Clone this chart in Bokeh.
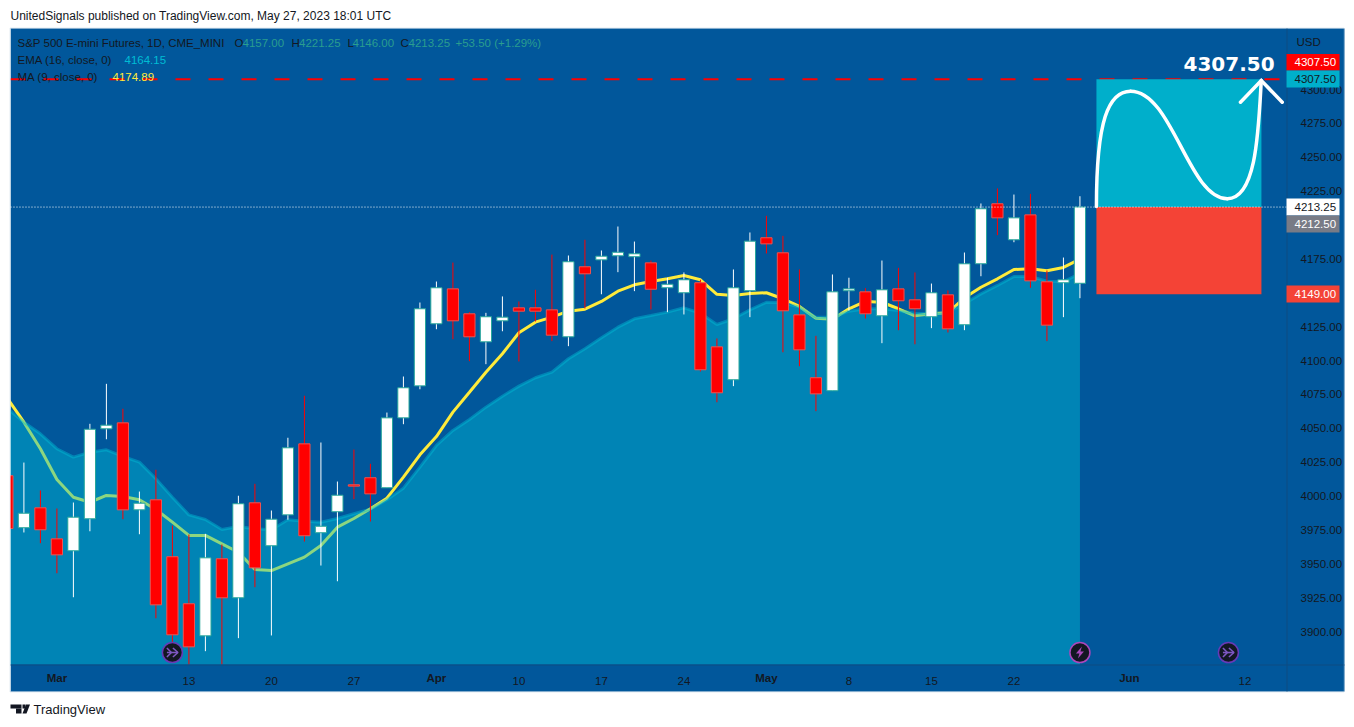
from bokeh.core.properties import value
from bokeh.embed import file_html
from bokeh.models import (BoxAnnotation, ColumnDataSource, FixedTicker, Label, LabelSet,
                          LinearAxis, NumeralTickFormatter, PolyAnnotation, Range1d)
from bokeh.plotting import figure
from bokeh.resources import INLINE

OPEN = [4015,3976.6,3991.3,3968.4,3959.6,3983.2,4049.6,4054,3989.8,3997.2,3955.2,3920.5,3896.8,3953.7,3924.9,3995,3963.3,3986.1,4038.5,3972.9,3988.4,4008.3,4013.5,4006.1,4057.7,4081.3,4127.1,4152.9,4134.5,4113.8,4129.3,4138.9,4138.9,4137.4,4117.5,4169.2,4174.3,4177.3,4176.6,4172.1,4153.7,4150,4157.4,4110.1,4085.8,4151.5,4190.6,4179.5,4133.7,4087.3,4077.7,4151.5,4150.7,4133,4152.9,4144.8,4132.3,4148.5,4126.4,4171.4,4215.7,4189.1,4207.5,4158.1,4157.4,4157]
HIGH = [4018,4024.7,4004.1,3990.8,3995.2,4053.3,4082.8,4064.4,4003.3,4019.4,3978.2,3971.6,3972.1,3964.2,4000.2,4009,3989.3,4043,4074,4039.5,4010.7,4034.3,4023.8,4061.6,4088.2,4142.8,4158.3,4172.3,4135.7,4135.2,4147.3,4143.6,4152.2,4178.2,4177.5,4189.1,4181.2,4198.9,4187.8,4173.8,4161.1,4165,4159.6,4116.3,4167.2,4194.5,4206.8,4192,4167.2,4118.2,4163.5,4161.1,4153.4,4173.8,4168.4,4165,4156.8,4151.7,4179.7,4215.9,4227,4222.5,4223,4166.4,4176,4221.25]
LOW = [3975,3973.1,3965.2,3943,3925.3,3974,4041.9,3982.9,3971.8,3909.8,3889.7,3875.7,3885.5,3875.7,3895.1,3932.7,3897.1,3982.5,3966.4,3948.7,3937.1,3997.7,3981.2,4006,4053,4078.8,4123.1,4115.7,4099.5,4097.3,4121.6,4099.3,4128.8,4114.3,4110.6,4138.4,4148.9,4165.2,4151.2,4137.7,4135.7,4134,4091.9,4069.2,4081.1,4132,4179,4106.1,4095.8,4062.6,4077.5,4136.9,4131,4112.8,4122.4,4112,4123.9,4120.7,4122.4,4162.2,4192.5,4187.3,4153.7,4114.3,4132,4146]
CLOSE = [3976,3987.3,3975.1,3956.6,3984.4,4049.3,4052.3,3989.8,3994.7,3919.7,3897.6,3888.7,3954.4,3924.9,3994.3,3947,3982.9,4035.6,3970.7,3977.7,4000.6,4007.3,4001.6,4057.7,4079.9,4138.2,4153.7,4129.3,4117.5,4132.3,4132,4136.4,4136.4,4118.7,4172.9,4164,4177,4179.9,4178.8,4152.6,4156.3,4159.6,4093.2,4076.2,4153.7,4188.1,4186.1,4136.7,4107.9,4075.4,4150.7,4152.9,4134.5,4152.2,4144.1,4138.2,4150,4123.4,4171.4,4212,4205.3,4205.3,4158.8,4126.1,4159.6,4213.25]
MA9 = [4072,4054.5,4034.9,4012.2,3999.1,3995.4,4000.4,3999.7,3997.2,3990.1,3980.7,3970.9,3970.9,3964.7,3958.5,3945.8,3945,3950,3954.9,3963.5,3977,3983.4,3990.6,3998.4,4013.9,4030.4,4043.9,4061.9,4076.6,4091.4,4105,4120.5,4128.3,4132,4136.4,4137.9,4143.6,4151.2,4155.9,4158.3,4160.3,4162.7,4159.6,4148.9,4148,4149.5,4150,4145.6,4139.9,4131.2,4130.5,4138.2,4143.6,4143,4138.2,4133,4134.5,4135.2,4146.3,4154.1,4160.3,4167.2,4167.7,4166.2,4168.7,4174.89]
EMA16 = [4064.6,4054.5,4045.9,4034.9,4028.7,4032.3,4034.1,4029.2,4025,4012.7,3999.1,3986.1,3982.7,3975.3,3977.5,3975.8,3975.1,3982.5,3981.4,3980.7,3983.4,3986.9,3990.3,3997.2,4005.8,4021.3,4037.3,4048.4,4056.5,4065.6,4073.7,4081.1,4087.3,4091.4,4101.3,4108.7,4116.8,4124.6,4130.8,4133.2,4135.7,4138.9,4134.9,4126.6,4130.8,4137.4,4143,4142.6,4139.4,4132,4132,4136.4,4138.2,4138.2,4136.9,4134.9,4134.5,4135.7,4141.9,4149.2,4155.4,4162,4162,4158.5,4158.3,4164.15]
BAR = list(range(len(OPEN)))

DATE_TICKS = [11, 16, 21, 31, 36, 41, 51, 56, 61, 75]
DATE_LABELS = ["13", "20", "27", "10", "17", "24", "8", "15", "22", "12"]
MONTH_TICKS = [3, 26, 46, 68]
MONTH_LABELS = ["Mar", "Apr", "May", "Jun"]
PRICE_TICKS = [3900, 3925, 3950, 3975, 4000, 4025, 4050, 4075, 4100, 4125, 4175, 4225, 4250, 4275, 4300]

LAST_PRICE = 4213.25
TARGET = 4307.50
STOP = 4149.00
ZONE_START = 66
ZONE_END = 76
# cubic segments of the hand-drawn wave: start, control 1, control 2, end
WAVE_X0 = [66, 68.07, 73.93]
WAVE_Y0 = [4213.7, 4298.8, 4219.4]
WAVE_CX0 = [66, 70.6, 75.7]
WAVE_CY0 = [4277.1, 4298.8, 4219.4]
WAVE_CX1 = [66.73, 71.58, 75.82]
WAVE_CY1 = [4298.8, 4219.4, 4269.8]
WAVE_X1 = [68.07, 73.93, 75.99]
WAVE_Y1 = [4298.8, 4219.4, 4306.7]
ARROW_BAR = [74.73, 75.99, 77.26]
ARROW_PRICE = [4290.6, 4306.7, 4290.6]
ICON_ARROW_BARS = [10, 74]
ICON_BOLT_BARS = [65]
ICON_PRICE = 3884.5

INK = "#131722"
PANE = "#01579b"
FONT = "Liberation Sans"
AREA = "#00bcd4"
UP_TEXT = "#2a9d8f"

# the frame fills the whole page; 16.5 px per bar, 1.355 px per point
X_RANGE = (-0.418, 81.64)
Y_RANGE = (3829.17, 4365.7)
PANE_LEFT = 0.188      # first visible bar position
PANE_RIGHT = 77.52     # price scale separator
PANE_BOTTOM = 3875.67  # date scale separator
DASH_END = 77.1

p = figure(width=1354, height=727, output_backend="svg", toolbar_location=None,
           x_range=Range1d(*X_RANGE), y_range=Range1d(*Y_RANGE),
           min_border_left=0, min_border_right=0, min_border_top=0, min_border_bottom=0,
           background_fill_color="white", border_fill_color="white",
           x_axis_location=None, y_axis_location=None, outline_line_color=None)
p.grid.visible = False


def box(l, r, t, b, fill, level="annotation", line=None):
    p.add_layout(BoxAnnotation(left=l, right=r, top=t, bottom=b,
                               left_units="canvas", right_units="canvas", top_units="canvas", bottom_units="canvas",
                               fill_color=fill, fill_alpha=1.0 if fill else 0, line_color=line, level=level,
                               editable=False))


def txt(px, py, s, color=INK, size=11.5, style="normal", font=FONT):
    p.add_layout(Label(x=px, y=py, x_units="canvas", y_units="canvas", text=s, text_color=color, text_font=font,
                       text_font_size=f"{size}px", text_font_style=style, text_baseline="middle"))


# pane background incl. axis gutters
box(10, 1344, 28, 691, PANE, level="underlay")

# axes, fixed inside the full-page frame
yax = LinearAxis(ticker=FixedTicker(ticks=PRICE_TICKS), formatter=NumeralTickFormatter(format="0.00"),
                 fixed_location=PANE_RIGHT,
                 axis_line_color=None, major_tick_line_color=None, minor_tick_line_color=None,
                 major_label_text_color=INK, major_label_text_font=FONT, major_label_text_font_size="11.5px",
                 major_label_standoff=8)
p.add_layout(yax, "right")
xax = LinearAxis(ticker=FixedTicker(ticks=DATE_TICKS),
                 major_label_overrides=dict(zip(DATE_TICKS, DATE_LABELS)),
                 fixed_location=PANE_BOTTOM,
                 axis_line_color=None, major_tick_line_color=None, minor_tick_line_color=None,
                 major_label_text_color=INK, major_label_text_font=FONT, major_label_text_font_size="11.5px",
                 major_label_standoff=7)
p.add_layout(xax, "below")
p.add_layout(LabelSet(x="x", y="y", text="t", x_units="data", y_units="canvas", text_color=INK, text_font=value(FONT),
                      text_font_size="11.5px", text_font_style="bold", text_align="center", text_baseline="middle",
                      source=ColumnDataSource(dict(x=MONTH_TICKS, y=[677] * 4, t=MONTH_LABELS))))

# dashed target level
p.line([PANE_LEFT, DASH_END], [TARGET, TARGET], line_color="#ff0000", line_width=2, line_dash=[15, 18])

# indicators: the area lies on top of the moving average
p.line(BAR, MA9, line_color="#ffeb3b", line_width=3)
p.varea(BAR, [PANE_BOTTOM] * len(BAR), EMA16, fill_color=AREA, fill_alpha=0.45)
p.line(BAR, EMA16, line_color=AREA, line_width=3, line_alpha=0.45)

# candles
up = [i for i in BAR if CLOSE[i] > OPEN[i]]
dn = [i for i in BAR if CLOSE[i] <= OPEN[i]]
p.segment([BAR[i] for i in up], [HIGH[i] for i in up], [BAR[i] for i in up], [LOW[i] for i in up],
          line_color="#ffffff", line_width=1)
p.segment([BAR[i] for i in dn], [HIGH[i] for i in dn], [BAR[i] for i in dn], [LOW[i] for i in dn],
          line_color="#ff0000", line_width=1)
p.vbar([BAR[i] for i in up], 0.68, [OPEN[i] for i in up], [CLOSE[i] for i in up],
       fill_color="#ffffff", line_color="#26a69a", line_width=1)
p.vbar([BAR[i] for i in dn], 0.68, [CLOSE[i] for i in dn], [OPEN[i] for i in dn],
       fill_color="#ff0000", line_color="#ef5350", line_width=1)

# long position zones
p.quad(left=[ZONE_START], right=[ZONE_END], bottom=[LAST_PRICE], top=[TARGET], fill_color="#00afcb", line_color=None)
p.quad(left=[ZONE_START], right=[ZONE_END], bottom=[STOP], top=[LAST_PRICE], fill_color="#f44336", line_color=None)

p.line([PANE_LEFT, PANE_RIGHT], [LAST_PRICE, LAST_PRICE], line_color="#ffffff", line_width=1, line_dash=[1, 2])

# hand drawn arrow
p.bezier(x0=WAVE_X0, y0=WAVE_Y0, x1=WAVE_X1, y1=WAVE_Y1, cx0=WAVE_CX0, cy0=WAVE_CY0, cx1=WAVE_CX1, cy1=WAVE_CY1,
         line_color="#ffffff", line_width=3.5, line_cap="round")
p.line(ARROW_BAR, ARROW_PRICE, line_color="#ffffff", line_width=3.5, line_join="miter", line_cap="round")

# event icons
p.scatter(ICON_ARROW_BARS, [ICON_PRICE] * 2, size=20, fill_color=INK, line_color="#673ab7", line_width=1.5)
p.scatter(ICON_BOLT_BARS, [ICON_PRICE], size=20, fill_color=INK, line_color="#ab47bc", line_width=1.5)
ux, uy = 1 / 16.5, 0.738
for b in ICON_ARROW_BARS:
    p.multi_line([[b - 5.5 * ux, b + 5.5 * ux],
                  [b + 0.5 * ux, b + 5.5 * ux, b + 0.5 * ux],
                  [b - 5.5 * ux, b - 1 * ux, b - 5.5 * ux]],
                 [[ICON_PRICE, ICON_PRICE],
                  [ICON_PRICE + 4.5 * uy, ICON_PRICE, ICON_PRICE - 4.5 * uy],
                  [ICON_PRICE + 4.5 * uy, ICON_PRICE, ICON_PRICE - 4.5 * uy]],
                 line_color="#7e57c2", line_width=1.6)
for b in ICON_BOLT_BARS:
    p.patch([b + 2 * ux, b - 4 * ux, b - 0.5 * ux, b - 2 * ux, b + 4 * ux, b + 0.5 * ux],
            [ICON_PRICE + 6 * uy, ICON_PRICE - 1 * uy, ICON_PRICE - 1 * uy, ICON_PRICE - 6 * uy,
             ICON_PRICE + 1 * uy, ICON_PRICE + 1 * uy], fill_color="#ab47bc", line_color=None)

# page margin left of the pane hides what the first bar would draw there
box(0, 10, 28, 691, "white")

# separators + pane border
box(1286, 1287, 28, 691, "#0f4c81")
box(10, 1344, 664, 665, "#0f4c81")
box(9.5, 1343.5, 27.5, 691.5, None, line="#a9bfd3")

# header + legend
txt(10, 15, "UnitedSignals published on TradingView.com, May 27, 2023 18:01 UTC", size=12)
txt(17, 42, "S&P 500 E-mini Futures, 1D, CME_MINI")
for x, s, c in [(234, "O", INK), (242, "4157.00", UP_TEXT), (291, "H", INK), (298.5, "4221.25", UP_TEXT),
                (347, "L", INK), (352, "4146.00", UP_TEXT), (400, "C", INK), (408, "4213.25", UP_TEXT),
                (455, "+53.50 (+1.29%)", UP_TEXT)]:
    txt(x, 42, s, c)
txt(17, 59, "EMA (16, close, 0)")
txt(124, 59, "4164.15", "#00bcd4")
txt(17, 76, "MA (9, close, 0)")
txt(112, 76, "4174.89", "#ffeb3b")

# price scale badges
txt(1296, 41, "USD")
for top, bottom, s, fill, col in [(53.5, 70, "4307.50", "#ff0000", "#ffffff"),
                                  (70, 87, "4307.50", "#00afcb", INK),
                                  (198, 215, "4213.25", "#ffffff", INK),
                                  (215, 232, "4212.50", "#787b86", "#ffffff"),
                                  (285, 302, "4149.00", "#f44336", "#ffffff")]:
    box(1286, 1339, top, bottom, fill)
    txt(1294, (top + bottom) / 2, s, col)

txt(1183, 63, "4307.50", "#ffffff", size=20, style="bold", font="DejaVu Sans")

# footer logo + wordmark
box(10, 21, 704, 708, INK)
box(15.5, 21, 708, 713, INK)
box(22, 25, 704, 708, INK)
p.add_layout(PolyAnnotation(xs=[22, 26, 29.5, 25.5], ys=[713, 713, 704, 704], xs_units="canvas", ys_units="canvas",
                            fill_color=INK, fill_alpha=1, line_color=None))
txt(33, 709, "TradingView", size=13)

open("out.html", "w").write(file_html(p, INLINE))
